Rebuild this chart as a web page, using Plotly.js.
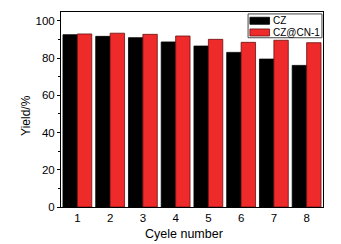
<!DOCTYPE html>
<html><head><meta charset="utf-8">
<script src="https://cdn.plot.ly/plotly-3.0.1.min.js"></script>
<style>html,body{margin:0;padding:0;background:#fff}</style>
</head><body><div id="c" style="width:341px;height:244px"></div>
<script>
const cycles = [1,2,3,4,5,6,7,8];
const czYield = [92.6, 91.7, 91.0, 88.7, 86.5, 83.1, 79.5, 76.1];
const czcnYield = [93.0, 93.4, 92.8, 91.9, 90.1, 88.5, 89.6, 88.3];
const yTicks = [0,20,40,60,80,100];
const seriesNames = ['CZ', 'CZ@CN-1'];
const seriesColors = ['#000000', '#ee2a2a'];

const fam = 'Liberation Sans, Arial, sans-serif';
const f = s => ({family: fam, size: s, color: '#000'});
const data = [
  {type:'bar', name:seriesNames[0], x:cycles, y:czYield, marker:{color:seriesColors[0], line:{color:'#000', width:0.8}}},
  {type:'bar', name:seriesNames[1], x:cycles, y:czcnYield, marker:{color:seriesColors[1], line:{color:'#6a1010', width:0.8}}}
];
const layout = {
  width:341, height:244,
  margin:{l:61, r:18, t:12, b:37},
  paper_bgcolor:'#fff', plot_bgcolor:'#fff',
  barmode:'group', bargap:0.12, bargroupgap:0,
  showlegend:false,
  font: f(11),
  xaxis:{range:[0.5,8.5], tickvals:cycles, ticks:'', showline:true, linecolor:'#000', linewidth:1, mirror:true,
    showgrid:false, zeroline:false, tickfont:f(11.5)},
  yaxis:{range:[0,104.8], tickvals:yTicks, ticks:'outside', ticklen:3, tickcolor:'#000', showline:true, linecolor:'#000', linewidth:1, mirror:true,
    showgrid:false, zeroline:false, tickfont:f(11.5),
    minor:{dtick:10, ticks:'outside', ticklen:2, tickcolor:'#000'}},
  shapes:[
    {type:'rect', xref:'paper', yref:'paper', x0:0.714, x1:0.996, y0:0.868, y1:0.990, line:{color:'#444', width:1}, fillcolor:'#fff', layer:'above'},
    {type:'rect', xref:'paper', yref:'paper', x0:0.721, x1:0.796, y0:0.937, y1:0.973, line:{color:'#000', width:0.8}, fillcolor:seriesColors[0], layer:'above'},
    {type:'rect', xref:'paper', yref:'paper', x0:0.721, x1:0.796, y0:0.877, y1:0.913, line:{color:'#6a1010', width:0.8}, fillcolor:seriesColors[1], layer:'above'}
  ],
  annotations:[
    {xref:'paper', yref:'paper', x:0.803, y:0.955, xanchor:'left', yanchor:'middle', text:seriesNames[0], showarrow:false, font:f(10)},
    {xref:'paper', yref:'paper', x:0.803, y:0.895, xanchor:'left', yanchor:'middle', text:seriesNames[1], showarrow:false, font:f(10)},
    {xref:'paper', yref:'paper', x:0.471, y:-0.09, xanchor:'center', yanchor:'top', text:'Cyele number', showarrow:false, font:f(12.5)},
    {xref:'paper', yref:'paper', x:-0.133, y:0.468, xanchor:'center', yanchor:'middle', textangle:-90, text:'Yield/%', showarrow:false, font:f(12)}
  ]
};
Plotly.newPlot('c', data, layout, {displayModeBar:false, staticPlot:true});
</script></body></html>
